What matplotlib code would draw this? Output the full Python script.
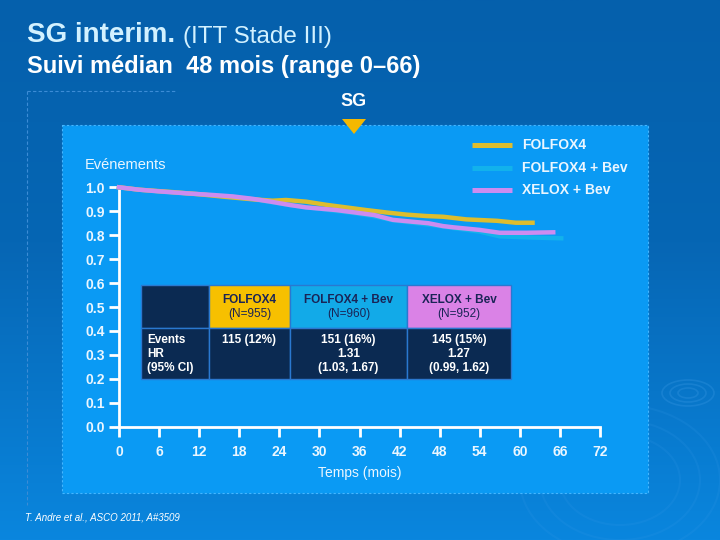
import matplotlib.pyplot as plt
import numpy as np
from matplotlib.colors import LinearSegmentedColormap
from matplotlib.patches import Rectangle, Polygon, Ellipse

plt.rcParams["font.family"] = ["Liberation Sans", "DejaVu Sans"]

# ── Données ──────────────────────────────────────────────────────────────────
months_folfox4 = [0, 3, 8, 12, 16, 20, 23, 25, 28, 31, 34, 37, 40, 43, 46,
                  48.5, 52, 56.6, 59.4, 61.9]
surv_folfox4 = [1.0, 0.99, 0.98, 0.971, 0.96, 0.95, 0.944, 0.947, 0.94, 0.927,
                0.916, 0.905, 0.895, 0.886, 0.88, 0.877, 0.866, 0.86, 0.852, 0.852]

months_folfox4_bev = [0, 3, 6, 10, 14, 17, 20, 23, 26, 29, 32, 35, 38, 41, 44,
                      47, 50, 54, 57, 62, 66.2]
surv_folfox4_bev = [1.0, 0.99, 0.982, 0.974, 0.967, 0.96, 0.95, 0.937, 0.924,
                    0.914, 0.903, 0.893, 0.88, 0.862, 0.852, 0.842, 0.83, 0.815,
                    0.795, 0.79, 0.787]

months_xelox_bev = [0, 3, 6, 10, 14, 17, 20, 22.7, 25.6, 28, 32.5, 35, 38.2, 41,
                    44, 46.3, 48.5, 50, 54, 57, 61, 65]
surv_xelox_bev = [1.0, 0.99, 0.983, 0.975, 0.968, 0.962, 0.952, 0.94, 0.926,
                  0.916, 0.905, 0.896, 0.884, 0.864, 0.856, 0.85, 0.838, 0.833,
                  0.822, 0.81, 0.81, 0.812]

series_names = ["FOLFOX4", "FOLFOX4 + Bev", "XELOX + Bev"]
x_ticks = [0, 6, 12, 18, 24, 30, 36, 42, 48, 54, 60, 66, 72]
y_ticks = [0.0, 0.1, 0.2, 0.3, 0.4, 0.5, 0.6, 0.7, 0.8, 0.9, 1.0]

n_patients = [955, 960, 952]
events = ["115 (12%)", "151 (16%)", "145 (15%)"]
hazard_ratios = ["", "1.31", "1.27"]
conf_intervals = ["", "(1.03, 1.67)", "(0.99, 1.62)"]

# Couleurs
C_YELLOW = "#DDBD2E"
C_CYAN = "#12B2EC"
C_PURPLE = "#CC8CF0"
C_PANEL = "#0A9AF4"
C_TEXT = "#EAF6FF"
C_NAVY = "#0B2A52"
C_HEAD_DARK = "#1A2456"
HEADER_COLORS = ["#F7C000", "#12AAE8", "#DA82E6"]
series_colors = [C_YELLOW, C_CYAN, C_PURPLE]

W, H = 720, 540
fig = plt.figure(figsize=(7.2, 5.4), dpi=100)

# ── Fond de la diapositive (coordonnées en pixels) ──────────────────────────
bg = fig.add_axes([0, 0, 1, 1])
bg.set_xlim(0, W)
bg.set_ylim(H, 0)
bg.axis("off")
cmap = LinearSegmentedColormap.from_list(
    "slide", [(0, "#0560AC"), (0.45, "#0666B4"), (1, "#0A86DE")])
grad = np.linspace(0, 1, 256).reshape(-1, 1)
bg.imshow(grad, extent=[0, W, H, 0], aspect="auto", cmap=cmap, zorder=0)

# Ondulations décoratives (bas droite), très discrètes
for w in (20, 36, 52):
    bg.add_patch(Ellipse((688, 393), w, w * 0.5, fill=False,
                         edgecolor="#4FA8F0", lw=1.2, alpha=0.22, zorder=1))
for w in (120, 160, 200):
    bg.add_patch(Ellipse((620, 480), w, w * 0.75, fill=False,
                         edgecolor="#3A9CEA", lw=1.5, alpha=0.15, zorder=1))

# Lignes pointillées
bg.plot([27, 175], [91, 91], color="#3C8CD6", lw=0.8, ls=(0, (3, 2)), zorder=1)
bg.plot([27, 27], [91, 505], color="#3C8CD6", lw=0.8, ls=(0, (3, 2)), zorder=1)

# Panneau du graphique
bg.add_patch(Rectangle((62, 125), 586, 368, facecolor=C_PANEL,
                       edgecolor="#45B6FF", lw=0.8, ls=(0, (2, 2)), zorder=2))

# Titres
bg.text(27, 35, "SG interim.", color="#D2F1FF", fontsize=20,
        fontweight="bold", va="center", ha="left", zorder=3)
bg.text(183, 37, "(ITT Stade III)", color="#D2F1FF", fontsize=17.5,
        fontweight="medium", va="center", ha="left", zorder=3)
bg.text(27, 67, "Suivi médian  48 mois (range 0\u201366)", color="white",
        fontsize=17, fontweight="bold", va="center", ha="left", zorder=3)

bg.text(354, 101, "SG", color="white", fontsize=13, fontweight="bold",
        ha="center", va="center", zorder=3)
bg.add_patch(Polygon([[342, 119], [366, 119], [354, 134]], closed=True,
                     facecolor="#F5B800", edgecolor="none", zorder=3))

bg.text(85, 165, "Evénements", color=C_TEXT, fontsize=10.5,
        ha="left", va="center", zorder=3)

# Légende
for i, (name, col) in enumerate(zip(series_names, series_colors)):
    y = 145 + i * 22.5
    bg.plot([472, 512], [y, y], color=col, lw=3.6, solid_capstyle="butt", zorder=3)
    bg.text(522, y, name, color=C_TEXT, fontsize=10, fontweight="bold",
            ha="left", va="center", zorder=3)

# Tableau
col_edges = [141, 209, 290, 407, 511]
row_edges = [285, 328, 379]
grid_col = "#2A78D0"
for j in range(4):
    x0, x1 = col_edges[j], col_edges[j + 1]
    head_fc = C_NAVY if j == 0 else HEADER_COLORS[j - 1]
    bg.add_patch(Rectangle((x0, row_edges[0]), x1 - x0, row_edges[1] - row_edges[0],
                           facecolor=head_fc, edgecolor=grid_col, lw=1, zorder=3))
    bg.add_patch(Rectangle((x0, row_edges[1]), x1 - x0, row_edges[2] - row_edges[1],
                           facecolor=C_NAVY, edgecolor=grid_col, lw=1, zorder=3))
for j in range(3):
    xc = (col_edges[j + 1] + col_edges[j + 2]) / 2
    bg.text(xc, 300, series_names[j], color=C_HEAD_DARK, fontsize=8.5,
            fontweight="bold", ha="center", va="center", zorder=4)
    bg.text(xc, 314, f"(N={n_patients[j]})", color=C_HEAD_DARK, fontsize=8.5,
            ha="center", va="center", zorder=4)
    body = [events[j], hazard_ratios[j], conf_intervals[j]]
    for k, line in enumerate(body):
        if line:
            bg.text(xc, 340 + k * 14, line, color="white", fontsize=8.5,
                    fontweight="bold", ha="center", va="center", zorder=4)
for k, line in enumerate(["Events", "HR", "(95% CI)"]):
    bg.text(147, 340 + k * 14, line, color="white", fontsize=8.5,
            fontweight="bold", ha="left", va="center", zorder=4)

bg.text(25, 517, "T. Andre et al., ASCO 2011, A#3509", color="white",
        fontsize=7, style="italic", ha="left", va="center", zorder=3)

# ── Axes des courbes ─────────────────────────────────────────────────────────
x0_px, x1_px, y0_px, y1_px = 119, 600, 426.7, 187.3
ax = fig.add_axes([x0_px / W, 1 - y0_px / H, (x1_px - x0_px) / W, (y0_px - y1_px) / H])
ax.patch.set_alpha(0)
ax.set_xlim(0, 72)
ax.set_ylim(0, 1)

ax.plot(months_folfox4_bev, surv_folfox4_bev, color=C_CYAN, lw=3.2, clip_on=False, zorder=3)
ax.plot(months_folfox4, surv_folfox4, color=C_YELLOW, lw=3.2, clip_on=False, zorder=4)
ax.plot(months_xelox_bev, surv_xelox_bev, color=C_PURPLE, lw=3.2, clip_on=False, zorder=5)

for side in ("top", "right"):
    ax.spines[side].set_visible(False)
for side in ("left", "bottom"):
    ax.spines[side].set_color("white")
    ax.spines[side].set_linewidth(2)
ax.set_xticks(x_ticks)
ax.set_yticks(y_ticks)
ax.set_yticklabels([f"{v:.1f}" for v in y_ticks])
ax.tick_params(axis="both", colors="white", labelcolor=C_TEXT, length=7,
               width=2, labelsize=10)
ax.tick_params(axis="x", pad=6)
ax.tick_params(axis="y", pad=3)
for lbl in ax.get_xticklabels() + ax.get_yticklabels():
    lbl.set_fontweight("bold")

bg.text((x0_px + x1_px) / 2, 473, "Temps (mois)", color=C_TEXT, fontsize=10,
        ha="center", va="center", zorder=3)

fig.savefig("out.png", dpi=100)
